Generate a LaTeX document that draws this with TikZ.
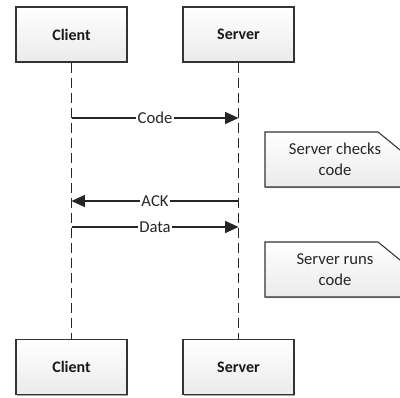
\documentclass[tikz,border=0pt]{standalone}
\usepackage{fontspec}
\setmainfont{Carlito}
\usetikzlibrary{arrows.meta,shadows}
\begin{document}
\begin{tikzpicture}[x=0.75pt,y=-0.75pt,
  lifebox/.style={draw=black!80, line width=0.8pt, top color=white, bottom color=black!8,
    minimum width=83.25pt, minimum height=41.25pt, inner sep=0pt,
    font=\fontsize{12}{14}\selectfont\bfseries, text=black!90,
    drop shadow={shadow xshift=0.8pt, shadow yshift=-0.8pt, fill=black!35, opacity=1}},
  lifeline/.style={draw=black!85, line width=0.9pt, dash pattern=on 7.5pt off 3.75pt},
  msg/.style={draw=black!85, line width=0.9pt, -{Triangle[length=10pt,width=9pt]}},
  msglabel/.style={fill=white, inner sep=1pt, font=\fontsize{12.5}{14}\selectfont, text=black!85},
  noteshape/.style={draw=black!80, line width=0.8pt, top color=white, bottom color=black!8,
    drop shadow={shadow xshift=0.8pt, shadow yshift=-0.8pt, fill=black!35, opacity=1}},
  notetext/.style={align=center, font=\fontsize{12.5}{15.5}\selectfont, text=black!85, inner sep=0pt}
]
\useasboundingbox (0,0) rectangle (400,397);
\clip (0,0) rectangle (400,397);
\fill[white] (0,0) rectangle (400,397);

% lifeline heads
\node[lifebox] (ct) at (71.5,34.5) {Client};
\node[lifebox] (st) at (238.5,34.5) {Server};
\node[lifebox] (cb) at (71.5,367) {Client};
\node[lifebox] (sb) at (238.5,367) {Server};

% lifelines
\draw[lifeline] (ct.south) -- (cb.north);
\draw[lifeline] (st.south) -- (sb.north);

% message points
\coordinate (c1) at (71.5,118);
\coordinate (s1) at (238.5,118);
\coordinate (c2) at (71.5,201);
\coordinate (s2) at (238.5,201);
\coordinate (c3) at (71.5,227);
\coordinate (s3) at (238.5,227);

\draw[msg] (c1) -- node[msglabel] {Code} (s1);
\draw[msg] (s2) -- node[msglabel] {ACK} (c2);
\draw[msg] (c3) -- node[msglabel] {Data} (s3);

% notes
\path[noteshape] (265,132) -- (378,132) -- (405,154) -- (405,187) -- (265,187) -- cycle;
\node[notetext] (n1) at (335,159.5) {Server checks\\code};
\path[noteshape] (265,242) -- (378,242) -- (405,264) -- (405,297) -- (265,297) -- cycle;
\node[notetext] (n2) at (335,269.5) {Server runs\\code};
\end{tikzpicture}
\end{document}
